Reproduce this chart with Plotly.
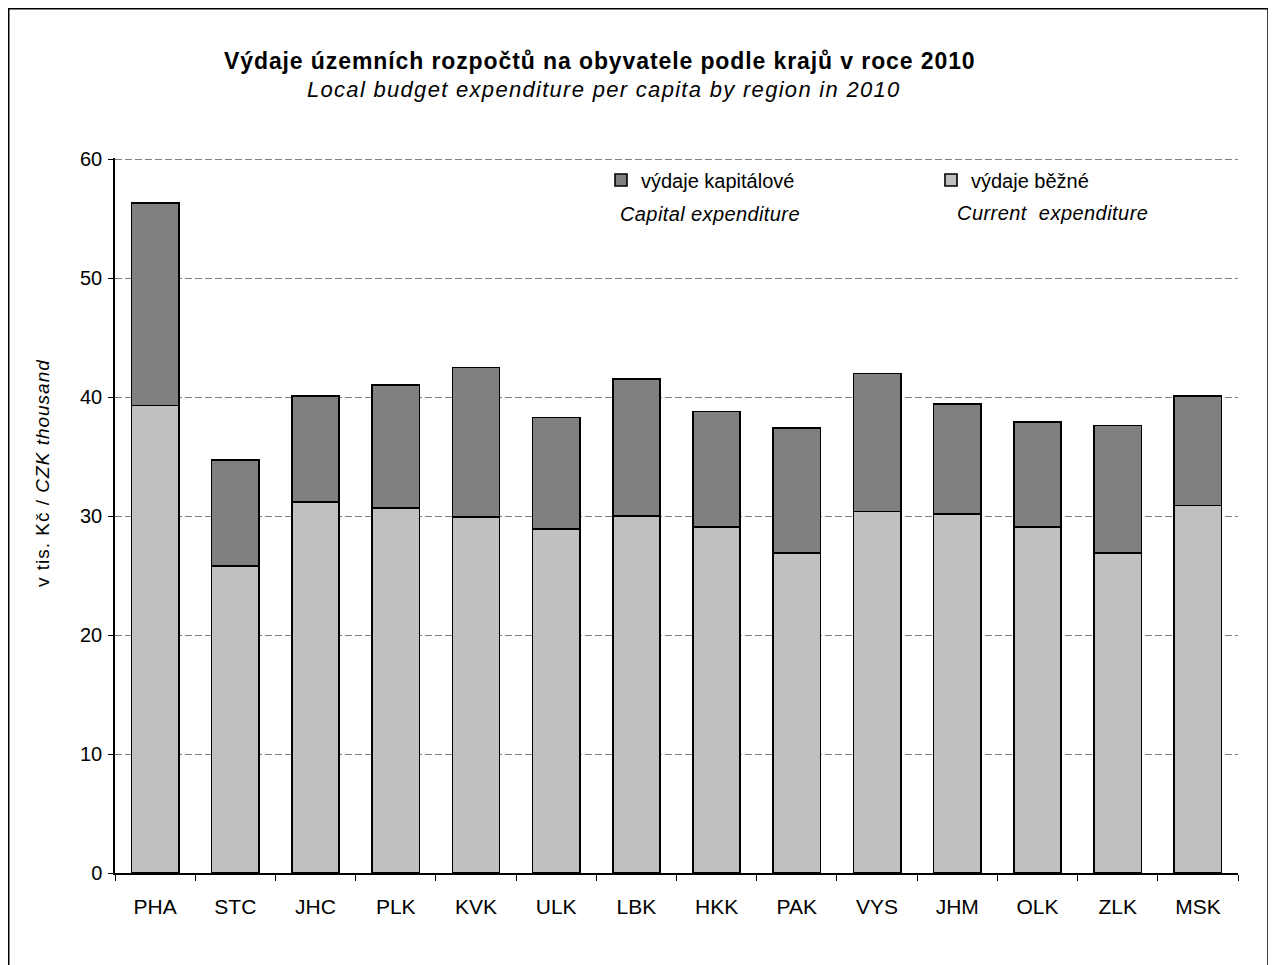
import plotly.graph_objects as go

regions = ["PHA", "STC", "JHC", "PLK", "KVK", "ULK", "LBK", "HKK", "PAK", "VYS", "JHM", "OLK", "ZLK", "MSK"]
current = [39.3, 25.8, 31.2, 30.7, 29.9, 28.9, 30.0, 29.1, 26.9, 30.4, 30.2, 29.1, 26.9, 30.9]
total = [56.3, 34.7, 40.1, 41.0, 42.5, 38.3, 41.5, 38.8, 37.4, 42.0, 39.4, 37.9, 37.6, 40.1]
capital = [round(t - c, 1) for t, c in zip(total, current)]
y_ticks = [0, 10, 20, 30, 40, 50, 60]

FONT = "Liberation Sans, Arial, sans-serif"
OFF = 8  # page body margin
W, H = 1276 - OFF, 965 - OFF
# plot area in page pixels: x 115..1238, y 158..873
L, R, T, B = 115 - OFF, W - (1238 - OFF), 158 - OFF, H - (873 - OFF)
pw, ph = W - L - R, H - T - B

def px(x):
    return (x - OFF - L) / pw

def py(y):
    return (H - B - (y - OFF)) / ph

def sp(text, s):
    return f'<span style="letter-spacing:{s}px">{text}</span>'

fig = go.Figure()
fig.add_trace(go.Bar(
    x=regions, y=current, name="výdaje běžné",
    marker=dict(color="#C0C0C0", line=dict(color="black", width=1.6)),
    legendrank=2,
))
fig.add_trace(go.Bar(
    x=regions, y=capital, name="výdaje kapitálové",
    marker=dict(color="#808080", line=dict(color="black", width=1.6)),
    legendrank=1,
))

fig.update_layout(
    width=W, height=H,
    margin=dict(l=L, r=R, t=T, b=B, autoexpand=False),
    barmode="stack", bargap=0.41,
    plot_bgcolor="white", paper_bgcolor="white",
    font=dict(family=FONT, size=20, color="black"),
    showlegend=True,
    legend=dict(
        orientation="h", x=px(601), y=py(180), xanchor="left", yanchor="middle",
        entrywidth=285, entrywidthmode="pixels", traceorder="normal",
        font=dict(size=20, family=FONT), bgcolor="rgba(0,0,0,0)",
        itemwidth=30, tracegroupgap=0,
    ),
    xaxis=dict(
        type="category", showline=True, linecolor="black", linewidth=1.5,
        ticks="outside", tickson="boundaries", ticklen=6, tickcolor="black",
        tickfont=dict(size=21), showgrid=False, ticklabelstandoff=14,
    ),
    yaxis=dict(
        range=[0, 60.1], tickvals=y_ticks, showline=True, linecolor="black", linewidth=1.5,
        ticks="outside", ticklen=5, tickcolor="black", tickfont=dict(size=20),
        showgrid=True, gridcolor="#808080", griddash="7px,3px", gridwidth=1,
        zeroline=False, ticklabelstandoff=2,
    ),
)

annotations = [
    dict(text="<b>" + sp("Výdaje územních rozpočtů na obyvatele podle krajů v roce 2010", 0.9) + "</b>",
         x=px(600), y=py(61), font=dict(size=23)),
    dict(text="<i>" + sp("Local budget expenditure per capita by region in 2010", 1.3) + "</i>",
         x=px(604), y=py(90), font=dict(size=22)),
    dict(text="<i>" + sp("Capital expenditure", 0.4) + "</i>", x=px(710), y=py(214), font=dict(size=20)),
    dict(text="<i>" + sp("Current  expenditure", 0.45) + "</i>", x=px(1052), y=py(213), font=dict(size=20)),
    dict(text=sp("v tis. Kč / <i>CZK thousand</i>", 1.0), x=px(43), y=py(473),
         font=dict(size=19), textangle=-90),
]
for a in annotations:
    a.update(xref="paper", yref="paper", showarrow=False, xanchor="center", yanchor="middle")
    fig.add_annotation(**a)

fig.add_shape(type="rect", xref="paper", yref="paper",
              x0=px(8.75), x1=px(1268), y0=py(1000), y1=py(8.75),
              line=dict(color="black", width=1.5), fillcolor="rgba(0,0,0,0)", layer="below")

fig.write_html("out.html")
